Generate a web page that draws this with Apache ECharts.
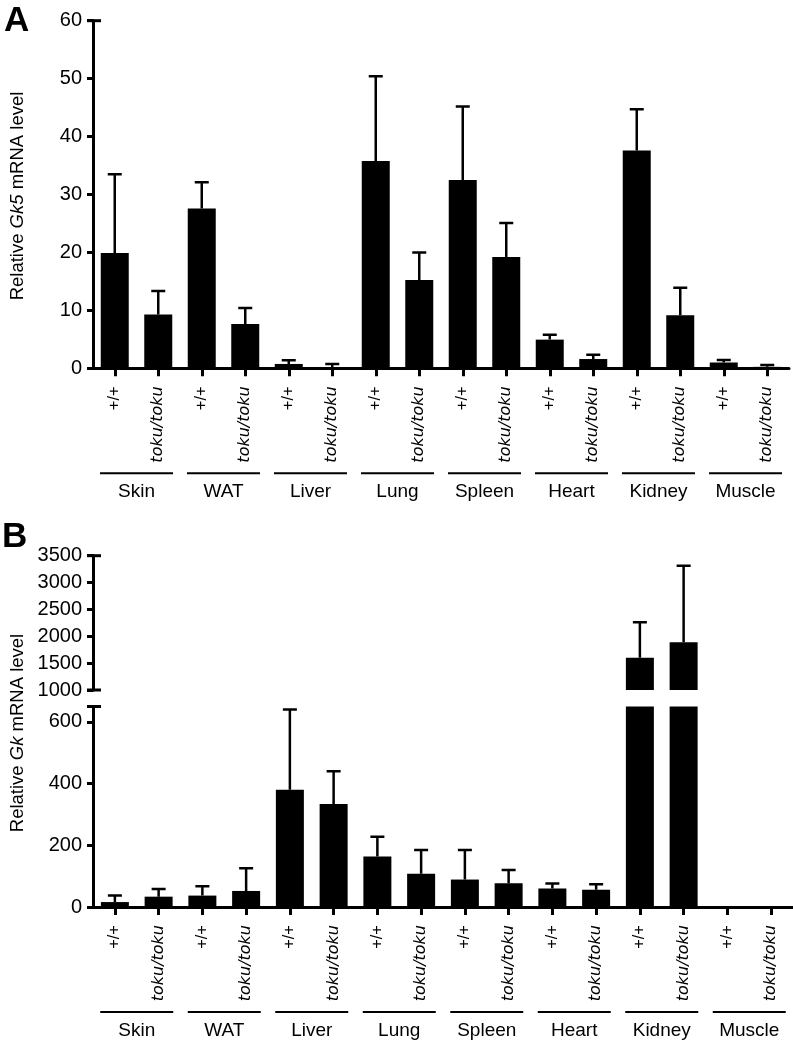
<!DOCTYPE html>
<html>
<head>
<meta charset="utf-8">
<script src="https://cdn.jsdelivr.net/npm/echarts@6/dist/echarts.min.js"></script>
<style>
html,body{margin:0;padding:0;background:#fff;}
#c{width:793px;height:1043px;}
</style>
</head>
<body>
<div id="c"></div>
<script>
// ---------- data ----------
const tissues = ['Skin', 'WAT', 'Liver', 'Lung', 'Spleen', 'Heart', 'Kidney', 'Muscle'];
const genotypes = ['+/+', 'toku/toku'];

// Panel A: Gk5
const gk5WT      = [19.9, 27.6, 0.75, 35.8, 32.5, 4.95, 37.6, 1.0];
const gk5WTErr   = [33.5, 32.1, 1.4, 50.4, 45.2, 5.8, 44.7, 1.45];
const gk5Toku    = [9.3, 7.65, 0.2, 15.25, 19.2, 1.6, 9.15, 0.25];
const gk5TokuErr = [13.35, 10.4, 0.75, 20.0, 25.1, 2.35, 13.9, 0.55];

// Panel B: Gk
const gkWT      = [16, 37, 380, 164, 89, 60, 1602, 0.5];
const gkWTErr   = [37, 67, 640, 228, 185, 76, 2263, 0.5];
const gkToku    = [33.5, 52, 334, 108, 77, 56, 1890, 0.5];
const gkTokuErr = [58.5, 126, 440, 185, 120, 74, 3313, 0.5];

// tick labels
const ticksA = [0, 10, 20, 30, 40, 50, 60];
const ticksBLow = [0, 200, 400, 600];
const ticksBHigh = [1000, 1500, 2000, 2500, 3000, 3500];
const lowBreak = 650;

// ---------- build ----------
const cats = [];
tissues.forEach(() => genotypes.forEach(g => cats.push(g)));
function interleave(a, b) { const r = []; a.forEach((v, i) => { r.push(a[i]); r.push(b[i]); }); return r; }
const valsA = interleave(gk5WT, gk5Toku);
const errA = interleave(gk5WTErr, gk5TokuErr);
const valsB = interleave(gkWT, gkToku);
const errB = interleave(gkWTErr, gkTokuErr);
function errData(vals, errs) { return vals.map((v, i) => [i, v, errs[i]]); }

const SANS = 'Liberation Sans, Arial, Helvetica, sans-serif';
const VER = 'DejaVu Sans, Verdana, sans-serif';

function catAxis(gridIndex, show) {
  return {
    type: 'category', gridIndex, data: cats, show,
    axisLine: { show: true, lineStyle: { color: '#000', width: 3 } },
    axisTick: { show: true, length: 8, lineStyle: { color: '#000', width: 3 }, alignWithLabel: true },
    axisLabel: {
      interval: 0, rotate: 90, margin: 18,
      formatter: v => v === '+/+' ? '{n|+/+}' : '{i|toku/toku}',
      rich: {
        n: { fontFamily: SANS, fontSize: 16.5, color: '#000' },
        i: { fontFamily: VER, fontStyle: 'italic', fontSize: 16, color: '#000' }
      }
    }
  };
}
function groupAxis(gridIndex) {
  return {
    type: 'category', gridIndex, data: tissues, position: 'bottom',
    axisLine: { show: false }, axisTick: { show: false },
    axisLabel: {
      interval: 0, margin: 104,
      formatter: v => '{l| }\n{t|' + v + '}',
      rich: {
        l: { width: 73, height: 2, lineHeight: 2, backgroundColor: '#000' },
        t: { fontFamily: SANS, fontSize: 19, lineHeight: 35, color: '#000' }
      }
    }
  };
}
function valAxis(gridIndex, ticks, max, showMax) {
  return {
    type: 'value', gridIndex, min: ticks[0], max: max,
    interval: ticks[1] - ticks[0],
    splitLine: { show: false },
    axisLine: { show: true, lineStyle: { color: '#000', width: 3 } },
    axisTick: { show: true, length: 6, lineStyle: { color: '#000', width: 3 } },
    axisLabel: { margin: 11, fontFamily: SANS, fontSize: 20, color: '#000', showMaxLabel: showMax,
      formatter: v => String(v) }
  };
}
function barSeries(x, y, data) {
  return { type: 'bar', xAxisIndex: x, yAxisIndex: y, data, barWidth: 28,
    itemStyle: { color: '#000' }, clip: true, silent: true, animation: false };
}
function errSeries(x, y, data) {
  return {
    type: 'custom', xAxisIndex: x, yAxisIndex: y, data, clip: true, animation: false, silent: true,
    encode: { x: 0, y: [1, 2] },
    renderItem: (params, api) => {
      const i = api.value(0), v = api.value(1), e = api.value(2);
      if (!(e > v)) return null;
      const p0 = api.coord([i, v]), p1 = api.coord([i, e]);
      const st = { stroke: '#000', lineWidth: 2.5 };
      return { type: 'group', children: [
        { type: 'line', shape: { x1: p0[0], y1: p0[1], x2: p1[0], y2: p1[1] }, style: st },
        { type: 'line', shape: { x1: p1[0] - 7, y1: p1[1], x2: p1[0] + 7, y2: p1[1] }, style: st }
      ] };
    }
  };
}
// short caps at the ends of broken / top axis segments, positioned via the axes
function capSeries(x, y, values) {
  return {
    type: 'custom', xAxisIndex: x, yAxisIndex: y, data: values.map(v => [0, v]), clip: false,
    animation: false, silent: true, encode: { x: 0, y: 1 },
    renderItem: (params, api) => {
      const p = api.coord([0, api.value(1)]);
      const half = api.size([1, 0])[0] / 2;
      const ax = p[0] - half;
      return { type: 'line', shape: { x1: ax - 6, y1: p[1], x2: ax + 8, y2: p[1] },
        style: { stroke: '#000', lineWidth: 3 } };
    }
  };
}

const chart = echarts.init(document.getElementById('c'), null, { renderer: 'canvas' });
const option = {
  animation: false,
  backgroundColor: '#fff',
  grid: [
    { left: 93, top: 20.7, width: 696, height: 347.6 },      // A
    { left: 93, top: 555.7, width: 704, height: 134.3 },     // B upper
    { left: 93, top: 706.5, width: 704, height: 200.5 }      // B lower
  ],
  xAxis: [
    catAxis(0, true), groupAxis(0),
    catAxis(1, false),
    catAxis(2, true), groupAxis(2)
  ],
  yAxis: [
    valAxis(0, ticksA, ticksA[ticksA.length - 1], true),
    valAxis(1, ticksBHigh, ticksBHigh[ticksBHigh.length - 1], true),
    valAxis(2, ticksBLow, lowBreak, false)
  ],
  series: [
    barSeries(0, 0, valsA), errSeries(0, 0, errData(valsA, errA)),
    barSeries(2, 1, valsB), errSeries(2, 1, errData(valsB, errB)),
    barSeries(3, 2, valsB), errSeries(3, 2, errData(valsB, errB)),
    capSeries(0, 0, [ticksA[ticksA.length - 1]]),
    capSeries(2, 1, [ticksBHigh[0], ticksBHigh[ticksBHigh.length - 1]]),
    capSeries(3, 2, [lowBreak])
  ],
  graphic: [
    { type: 'text', left: 4, top: 4, style: { text: 'A', font: 'bold 35px ' + SANS, fill: '#000' } },
    { type: 'text', left: 2, top: 520, style: { text: 'B', font: 'bold 35px ' + SANS, fill: '#000' } },
    { type: 'text', x: 18, y: 196, rotation: Math.PI / 2,
      style: { text: 'Relative {i|Gk5} mRNA level', fontFamily: SANS, fontSize: 18.5, fill: '#000',
        align: 'center', verticalAlign: 'middle',
        rich: { i: { fontFamily: SANS, fontSize: 18.5, fontStyle: 'italic', fill: '#000' } } } },
    { type: 'text', x: 18, y: 733, rotation: Math.PI / 2,
      style: { text: 'Relative {i|Gk} mRNA level', fontFamily: SANS, fontSize: 18.5, fill: '#000',
        align: 'center', verticalAlign: 'middle',
        rich: { i: { fontFamily: SANS, fontSize: 18.5, fontStyle: 'italic', fill: '#000' } } } }
  ]
};
chart.setOption(option);
</script>
</body>
</html>
